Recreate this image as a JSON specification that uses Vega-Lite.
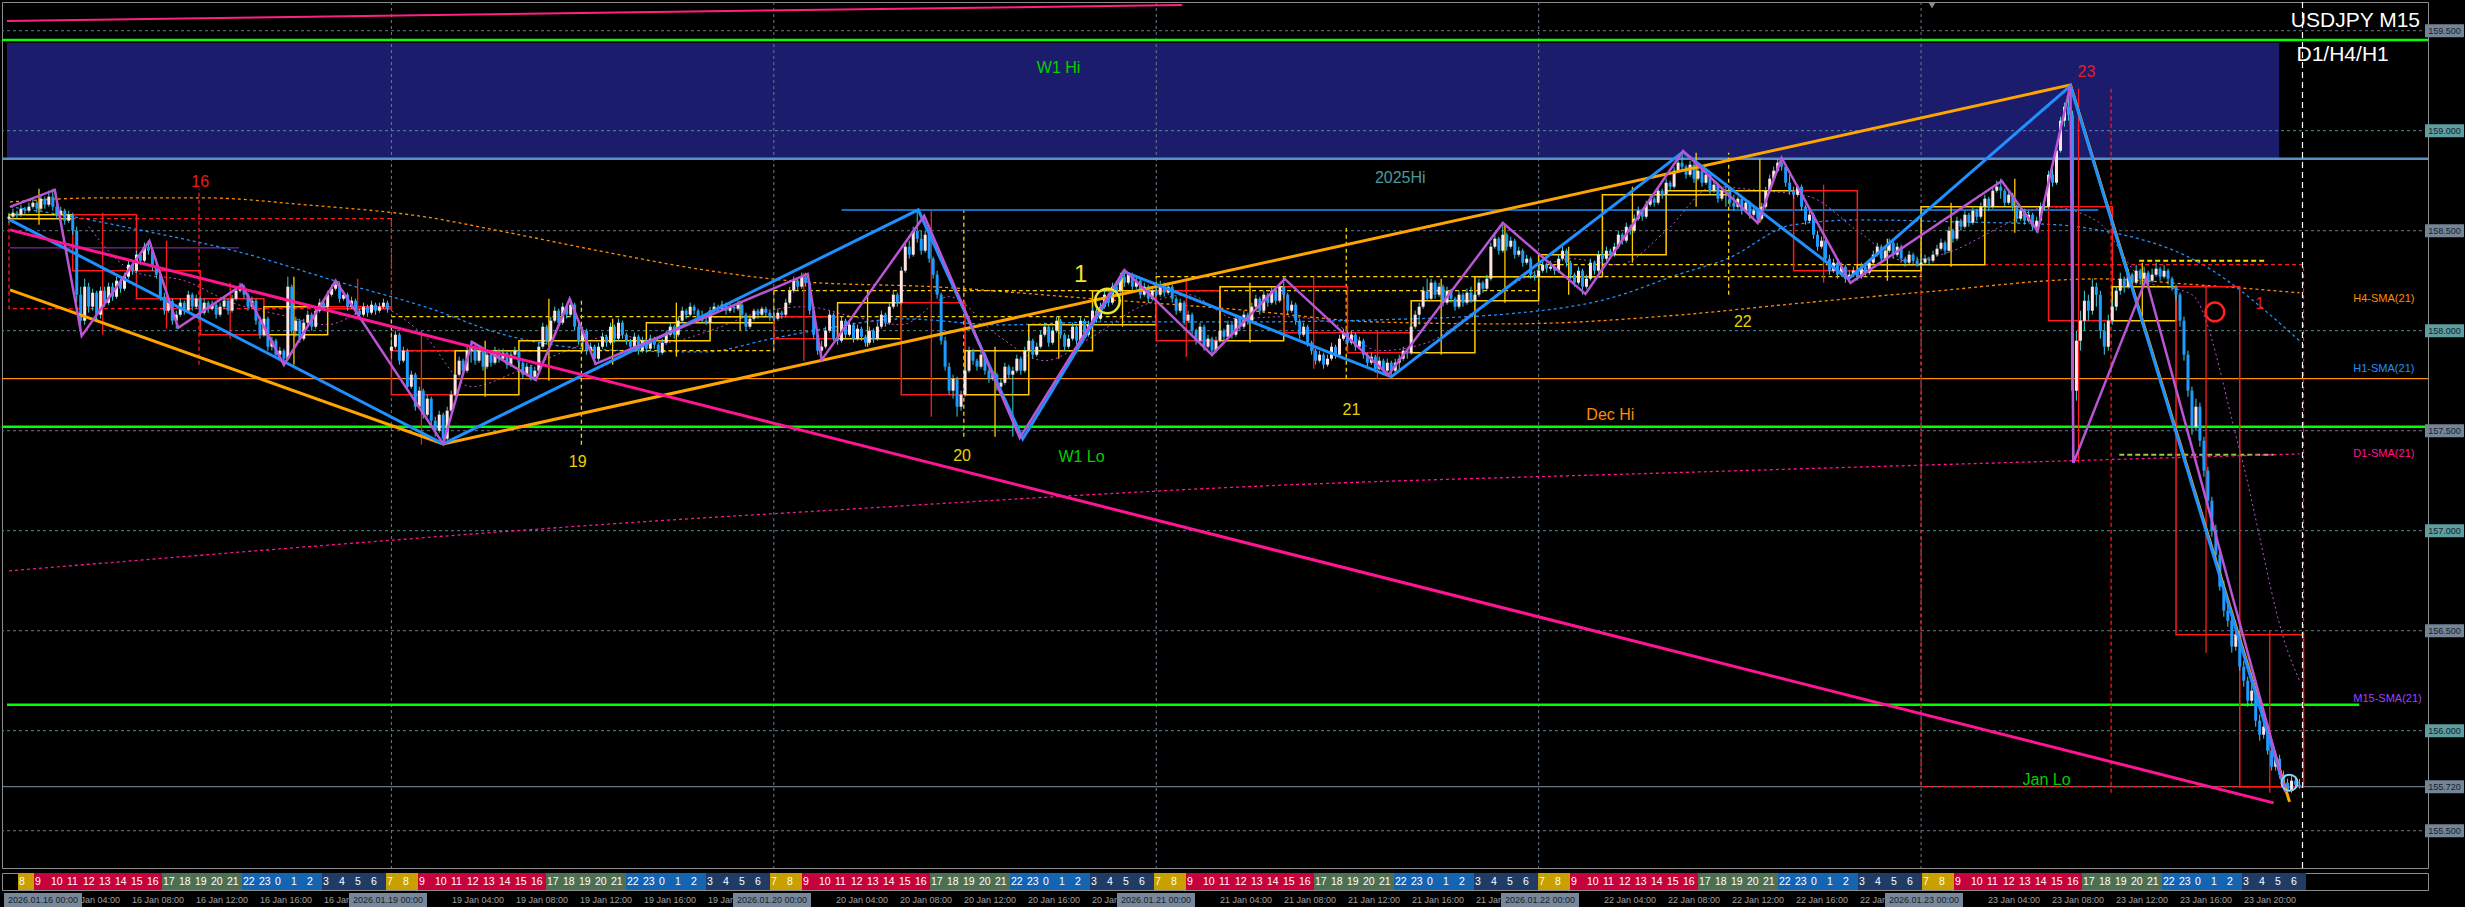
{
"$schema":"https://vega.github.io/schema/vega-lite/v6.json",
"background":"#000000",
"padding":0,
"autosize":{"type":"pad"},
"spacing":2,
"config":{"view":{"stroke":"#8c8c8c","strokeWidth":1},"text":{"font":"Liberation Sans"},"axis":{"labelFont":"Liberation Sans","grid":false}},
"vconcat":[
{"width":2426,"height":866,
"layer":[
{"data":{"values":[{"t0":-0.5,"t1":569.9,"p0":159.438,"p1":158.86}]},
"mark":{"type":"rect","color":"#1c1c6c"},
"encoding":{"x":{"field":"t0","type":"quantitative","scale":{"domain":[-0.5,606],"nice":false,"zero":false},"axis":null},"x2":{"field":"t1"},
"y":{"field":"p0","type":"quantitative","scale":{"domain":[155.3135,159.6435],"nice":false,"zero":false},"axis":{"orient":"right","title":null,"values":[155.46,155.62,155.78,155.94,156.1,156.26,156.42,156.58,156.74,156.9,157.06,157.22,157.38,157.54,157.7,157.86,158.02,158.18,158.34,158.5,158.66,158.82,158.98,159.14,159.3,159.46,159.62],"format":".3f","labelColor":"#9a9a9a","labelFontSize":9,"tickColor":"#8c8c8c","tickSize":5,"domainColor":"#8c8c8c","labelPadding":2,"labelOverlap":false,"labelFlush":false}},"y2":{"field":"p1"}}},
{"data":{"values":[{"p":159.5},{"p":159},{"p":158.5},{"p":158},{"p":157.5},{"p":157},{"p":156.5},{"p":156},{"p":155.5}]},
"mark":{"type":"rule","strokeDash":[3,3],"strokeWidth":1},
"encoding":{"y":{"field":"p","type":"quantitative","scale":{"domain":[155.3135,159.6435],"nice":false,"zero":false},"axis":null},"color":{"condition":{"test":"datum.p % 1 == 0","value":"#4f8f96"},"value":"#66788a"}}},
{"data":{"values":[{"t":96},{"t":192},{"t":288},{"t":384},{"t":480}]},
"mark":{"type":"rule","strokeDash":[3,3],"color":"#6a7a8a","strokeWidth":1},
"encoding":{"x":{"field":"t","type":"quantitative","scale":{"domain":[-0.5,606],"nice":false,"zero":false},"axis":null}}},
{"data":{"values":[{"p":159.453},{"p":157.52}]},"mark":{"type":"rule","color":"#00ff00","strokeWidth":2.5},
"encoding":{"y":{"field":"p","type":"quantitative","scale":{"domain":[155.3135,159.6435],"nice":false,"zero":false},"axis":null}}},
{"data":{"values":[{"p":157.76}]},"mark":{"type":"rule","color":"#ff8c00","strokeWidth":1.2},
"encoding":{"y":{"field":"p","type":"quantitative","scale":{"domain":[155.3135,159.6435],"nice":false,"zero":false},"axis":null}}},
{"data":{"values":[{"p":158.86}]},"mark":{"type":"rule","color":"#5a8fc8","strokeWidth":2.5},
"encoding":{"y":{"field":"p","type":"quantitative","scale":{"domain":[155.3135,159.6435],"nice":false,"zero":false},"axis":null}}},
{"data":{"values":[{"p":155.72}]},"mark":{"type":"rule","color":"#8090a0","strokeWidth":1},
"encoding":{"y":{"field":"p","type":"quantitative","scale":{"domain":[155.3135,159.6435],"nice":false,"zero":false},"axis":null}}},
{"data":{"values":[{"t0":-0.5,"t1":590,"p":156.13}]},"mark":{"type":"rule","color":"#00ff00","strokeWidth":2.5},
"encoding":{"x":{"field":"t0","type":"quantitative","scale":{"domain":[-0.5,606],"nice":false,"zero":false},"axis":null},"x2":{"field":"t1"},"y":{"field":"p","type":"quantitative","scale":{"domain":[155.3135,159.6435],"nice":false,"zero":false},"axis":null}}},
{"data":{"values":[{"t0":209,"t1":524.5,"p":158.604}]},"mark":{"type":"rule","color":"#1e90ff","strokeWidth":1.5},
"encoding":{"x":{"field":"t0","type":"quantitative","scale":{"domain":[-0.5,606],"nice":false,"zero":false},"axis":null},"x2":{"field":"t1"},"y":{"field":"p","type":"quantitative","scale":{"domain":[155.3135,159.6435],"nice":false,"zero":false},"axis":null}}},
{"data":{"values":[{"t0":0.25,"t1":57.75,"p":158.414}]},"mark":{"type":"rule","color":"#9932cc","strokeWidth":1},
"encoding":{"x":{"field":"t0","type":"quantitative","scale":{"domain":[-0.5,606],"nice":false,"zero":false},"axis":null},"x2":{"field":"t1"},"y":{"field":"p","type":"quantitative","scale":{"domain":[155.3135,159.6435],"nice":false,"zero":false},"axis":null}}},
{"data":{"values":[{"t0":534.75,"t1":566.5,"p":158.35}]},"mark":{"type":"rule","color":"#ffd700","strokeWidth":2,"strokeDash":[5,3]},
"encoding":{"x":{"field":"t0","type":"quantitative","scale":{"domain":[-0.5,606],"nice":false,"zero":false},"axis":null},"x2":{"field":"t1"},"y":{"field":"p","type":"quantitative","scale":{"domain":[155.3135,159.6435],"nice":false,"zero":false},"axis":null}}},
{"data":{"values":[{"t0":529.75,"t1":568.5,"p":157.38}]},"mark":{"type":"rule","color":"#9acd32","strokeWidth":2,"strokeDash":[5,3]},
"encoding":{"x":{"field":"t0","type":"quantitative","scale":{"domain":[-0.5,606],"nice":false,"zero":false},"axis":null},"x2":{"field":"t1"},"y":{"field":"p","type":"quantitative","scale":{"domain":[155.3135,159.6435],"nice":false,"zero":false},"axis":null}}},
{"data":{"values":[{"t":0.25,"p":158.644},{"t":22.75,"p":158.664},{"t":49.5,"p":158.664},{"t":74.5,"p":158.629},{"t":104.5,"p":158.569},{"t":124.5,"p":158.494},{"t":149.5,"p":158.394},{"t":174.5,"p":158.304},{"t":199.5,"p":158.244},{"t":232.75,"p":158.219},{"t":266.25,"p":158.169},{"t":309.5,"p":158.104},{"t":342.75,"p":158.044},{"t":376.25,"p":158.034},{"t":419.5,"p":158.079},{"t":447.75,"p":158.134},{"t":481.25,"p":158.194},{"t":524.5,"p":158.259},{"t":549.5,"p":158.229},{"t":575,"p":158.19}]},
"mark":{"type":"line","color":"#ff8c00","strokeWidth":1.3,"strokeDash":[3,3],"interpolate":"monotone"},
"encoding":{"x":{"field":"t","type":"quantitative","scale":{"domain":[-0.5,606],"nice":false,"zero":false},"axis":null},"y":{"field":"p","type":"quantitative","scale":{"domain":[155.3135,159.6435],"nice":false,"zero":false},"axis":null}}},
{"data":{"values":[{"t":0.25,"p":158.62},{"t":16.25,"p":158.569},{"t":32.75,"p":158.504},{"t":57.75,"p":158.394},{"t":82.75,"p":158.244},{"t":104.5,"p":158.119},{"t":124.5,"p":157.979},{"t":149.5,"p":157.904},{"t":174.5,"p":157.894},{"t":191.25,"p":157.959},{"t":204.5,"p":158.009},{"t":224.5,"p":158.059},{"t":249.5,"p":158.029},{"t":274.5,"p":158.044},{"t":309.5,"p":158.044},{"t":342.75,"p":158.054},{"t":376.25,"p":158.084},{"t":401.25,"p":158.159},{"t":419.5,"p":158.284},{"t":431.25,"p":158.359},{"t":447.75,"p":158.529},{"t":464.5,"p":158.554},{"t":489.5,"p":158.544},{"t":514.5,"p":158.529},{"t":524.5,"p":158.504},{"t":549.5,"p":158.344},{"t":575,"p":157.95}]},
"mark":{"type":"line","color":"#1e90ff","strokeWidth":1.3,"strokeDash":[3,3],"interpolate":"monotone"},
"encoding":{"x":{"field":"t","type":"quantitative","scale":{"domain":[-0.5,606],"nice":false,"zero":false},"axis":null},"y":{"field":"p","type":"quantitative","scale":{"domain":[155.3135,159.6435],"nice":false,"zero":false},"axis":null}}},
{"data":{"values":[{"t":0,"p":156.799},{"t":74.5,"p":156.919},{"t":166.25,"p":157.054},{"t":199.5,"p":157.094},{"t":309.5,"p":157.219},{"t":424.5,"p":157.294},{"t":524.5,"p":157.354},{"t":575,"p":157.384}]},
"mark":{"type":"line","color":"#ff1493","strokeWidth":1.3,"strokeDash":[3,3],"interpolate":"monotone"},
"encoding":{"x":{"field":"t","type":"quantitative","scale":{"domain":[-0.5,606],"nice":false,"zero":false},"axis":null},"y":{"field":"p","type":"quantitative","scale":{"domain":[155.3135,159.6435],"nice":false,"zero":false},"axis":null}}},
{"data":{"values":[{"t":20,"p":158.52},{"t":32,"p":158.29},{"t":44,"p":158.25},{"t":56,"p":158.14},{"t":68,"p":158.08},{"t":80,"p":158.03},{"t":92,"p":158.12},{"t":104,"p":157.98},{"t":116,"p":157.72},{"t":128,"p":157.8},{"t":140,"p":157.9},{"t":152,"p":157.98},{"t":164,"p":157.94},{"t":176,"p":158.0},{"t":188,"p":158.09},{"t":200,"p":158.12},{"t":212,"p":158.07},{"t":224,"p":158.03},{"t":236,"p":158.17},{"t":248,"p":157.98},{"t":260,"p":157.85},{"t":272,"p":157.97},{"t":284,"p":158.12},{"t":296,"p":158.18},{"t":308,"p":158.06},{"t":320,"p":158.07},{"t":332,"p":158.04},{"t":344,"p":157.9},{"t":356,"p":157.94},{"t":368,"p":158.1},{"t":380,"p":158.26},{"t":392,"p":158.36},{"t":404,"p":158.33},{"t":416,"p":158.5},{"t":428,"p":158.72},{"t":440,"p":158.7},{"t":452,"p":158.67},{"t":464,"p":158.5},{"t":476,"p":158.35},{"t":488,"p":158.4},{"t":500,"p":158.52},{"t":512,"p":158.62},{"t":524,"p":158.55},{"t":536,"p":158.25},{"t":548,"p":158.18},{"t":560,"p":157.4},{"t":572,"p":156.4},{"t":575,"p":156.25}]},
"mark":{"type":"line","color":"#ba55d3","strokeWidth":1,"strokeDash":[2,3],"interpolate":"monotone"},
"encoding":{"x":{"field":"t","type":"quantitative","scale":{"domain":[-0.5,606],"nice":false,"zero":false},"axis":null},"y":{"field":"p","type":"quantitative","scale":{"domain":[155.3135,159.6435],"nice":false,"zero":false},"axis":null}}},
{"data":{"values":"t,o,h,l,c\n0,158.56,158.59,158.54,158.57\n1,158.57,158.61,158.56,158.59\n2,158.59,158.60,158.56,158.58\n3,158.58,158.63,158.57,158.61\n4,158.61,158.62,158.58,158.60\n5,158.60,158.64,158.59,158.62\n6,158.62,158.66,158.61,158.64\n7,158.64,158.65,158.59,158.61\n8,158.61,158.68,158.60,158.66\n9,158.66,158.67,158.61,158.63\n10,158.63,158.70,158.62,158.67\n11,158.67,158.71,158.60,158.62\n12,158.62,158.64,158.56,158.58\n13,158.58,158.62,158.55,158.60\n14,158.60,158.61,158.53,158.55\n15,158.55,158.60,158.54,158.58\n16,158.58,158.59,158.48,158.50\n17,158.50,158.52,158.14,158.18\n18,158.18,158.22,157.98,158.05\n19,158.05,158.26,158.03,158.22\n20,158.22,158.24,158.09,158.12\n21,158.12,158.21,158.10,158.19\n22,158.19,158.20,158.05,158.08\n23,158.08,158.22,158.06,158.20\n24,158.20,158.22,158.12,158.14\n25,158.14,158.24,158.13,158.22\n26,158.22,158.24,158.15,158.17\n27,158.17,158.27,158.16,158.25\n28,158.25,158.26,158.19,158.21\n29,158.21,158.29,158.20,158.27\n30,158.27,158.35,158.26,158.33\n31,158.33,158.34,158.28,158.30\n32,158.30,158.40,158.29,158.38\n33,158.38,158.39,158.33,158.35\n34,158.35,158.44,158.34,158.42\n35,158.42,158.45,158.38,158.40\n36,158.40,158.41,158.30,158.32\n37,158.32,158.34,158.26,158.28\n38,158.28,158.29,158.15,158.17\n39,158.17,158.19,158.08,158.10\n40,158.10,158.17,158.09,158.15\n41,158.15,158.16,158.03,158.05\n42,158.05,158.10,158.01,158.08\n43,158.08,158.16,158.07,158.14\n44,158.14,158.15,158.08,158.10\n45,158.10,158.20,158.09,158.18\n46,158.18,158.19,158.10,158.12\n47,158.12,158.18,158.11,158.16\n48,158.16,158.17,158.07,158.09\n49,158.09,158.16,158.08,158.14\n50,158.14,158.15,158.09,158.11\n51,158.11,158.15,158.10,158.13\n52,158.13,158.14,158.06,158.08\n53,158.08,158.14,158.07,158.12\n54,158.12,158.17,158.11,158.15\n55,158.15,158.16,158.08,158.10\n56,158.10,158.18,158.09,158.16\n57,158.16,158.22,158.15,158.20\n58,158.20,158.24,158.19,158.22\n59,158.22,158.23,158.16,158.18\n60,158.18,158.19,158.10,158.12\n61,158.12,158.17,158.11,158.15\n62,158.15,158.16,158.03,158.05\n63,158.05,158.07,157.96,157.98\n64,157.98,158.08,157.97,158.06\n65,158.06,158.07,157.90,157.92\n66,157.92,157.97,157.90,157.95\n67,157.95,157.96,157.86,157.88\n68,157.88,157.92,157.86,157.90\n69,157.90,157.91,157.83,157.86\n70,157.86,158.27,157.85,158.22\n71,158.22,158.23,157.98,158.00\n72,158.00,158.07,157.97,158.05\n73,158.05,158.06,157.94,157.96\n74,157.96,158.06,157.95,158.04\n75,158.04,158.10,158.03,158.08\n76,158.08,158.09,158.00,158.02\n77,158.02,158.12,158.01,158.10\n78,158.10,158.16,158.09,158.14\n79,158.14,158.15,158.10,158.12\n80,158.12,158.20,158.11,158.18\n81,158.18,158.23,158.17,158.21\n82,158.21,158.26,158.20,158.23\n83,158.23,158.24,158.14,158.16\n84,158.16,158.20,158.15,158.18\n85,158.18,158.19,158.10,158.12\n86,158.12,158.17,158.11,158.15\n87,158.15,158.16,158.08,158.10\n88,158.10,158.11,158.06,158.08\n89,158.08,158.14,158.07,158.12\n90,158.12,158.13,158.07,158.09\n91,158.09,158.15,158.08,158.13\n92,158.13,158.14,158.08,158.10\n93,158.10,158.14,158.09,158.12\n94,158.12,158.16,158.11,158.14\n95,158.14,158.15,158.09,158.11\n96,157.90,157.95,157.86,157.92\n97,157.92,158.00,157.91,157.98\n98,157.98,157.99,157.83,157.85\n99,157.85,157.92,157.84,157.90\n100,157.90,157.91,157.70,157.72\n101,157.72,157.80,157.71,157.78\n102,157.78,157.79,157.60,157.62\n103,157.62,157.72,157.61,157.70\n104,157.70,157.71,157.56,157.58\n105,157.58,157.68,157.57,157.66\n106,157.66,157.67,157.52,157.55\n107,157.55,157.57,157.47,157.50\n108,157.50,157.60,157.49,157.58\n109,157.58,157.59,157.43,157.46\n110,157.46,157.62,157.45,157.60\n111,157.60,157.70,157.59,157.68\n112,157.68,157.80,157.67,157.78\n113,157.78,157.87,157.77,157.85\n114,157.85,157.86,157.78,157.80\n115,157.80,157.92,157.79,157.90\n116,157.90,157.95,157.84,157.92\n117,157.92,157.93,157.83,157.85\n118,157.85,157.92,157.84,157.90\n119,157.90,157.91,157.80,157.82\n120,157.82,157.90,157.81,157.88\n121,157.88,157.89,157.82,157.84\n122,157.84,157.92,157.83,157.90\n123,157.90,157.91,157.84,157.86\n124,157.86,157.91,157.85,157.89\n125,157.89,157.90,157.81,157.83\n126,157.83,157.90,157.82,157.88\n127,157.88,157.92,157.86,157.90\n128,157.90,157.91,157.82,157.84\n129,157.84,157.85,157.76,157.78\n130,157.78,157.84,157.77,157.82\n131,157.82,157.83,157.75,157.77\n132,157.77,157.82,157.75,157.80\n133,157.80,157.94,157.79,157.92\n134,157.92,158.04,157.91,158.02\n135,158.02,158.03,157.93,157.95\n136,157.95,158.07,157.94,158.05\n137,158.05,158.12,158.04,158.10\n138,158.10,158.11,158.02,158.04\n139,158.04,158.14,158.03,158.12\n140,158.12,158.13,158.06,158.08\n141,158.08,158.16,158.07,158.13\n142,158.13,158.14,158.00,158.02\n143,158.02,158.04,157.93,157.95\n144,157.95,158.02,157.94,158.00\n145,158.00,158.01,157.88,157.90\n146,157.90,157.94,157.89,157.92\n147,157.92,157.93,157.83,157.86\n148,157.86,157.94,157.85,157.92\n149,157.92,157.99,157.91,157.97\n150,157.97,157.98,157.92,157.94\n151,157.94,158.04,157.93,158.02\n152,158.02,158.03,157.94,157.96\n153,157.96,158.06,157.95,158.04\n154,158.04,158.05,157.96,157.98\n155,157.98,157.99,157.93,157.95\n156,157.95,157.96,157.90,157.92\n157,157.92,157.99,157.91,157.97\n158,157.97,157.98,157.88,157.90\n159,157.90,157.97,157.89,157.95\n160,157.95,157.96,157.89,157.91\n161,157.91,157.98,157.90,157.96\n162,157.96,157.97,157.91,157.93\n163,157.93,157.94,157.87,157.89\n164,157.89,157.96,157.88,157.94\n165,157.94,158.00,157.93,157.98\n166,157.98,158.04,157.97,158.02\n167,158.02,158.03,157.96,157.98\n168,157.98,158.07,157.97,158.05\n169,158.05,158.12,158.04,158.10\n170,158.10,158.11,158.06,158.08\n171,158.08,158.14,158.07,158.12\n172,158.12,158.13,158.08,158.10\n173,158.10,158.11,158.05,158.07\n174,158.07,158.10,158.04,158.05\n175,158.05,158.08,158.03,158.04\n176,158.04,158.12,158.03,158.10\n177,158.10,158.14,158.09,158.12\n178,158.12,158.13,158.09,158.11\n179,158.11,158.15,158.10,158.13\n180,158.13,158.14,158.08,158.10\n181,158.10,158.14,158.09,158.12\n182,158.12,158.13,158.09,158.11\n183,158.11,158.15,158.10,158.13\n184,158.13,158.14,158.06,158.08\n185,158.08,158.09,158.00,158.02\n186,158.02,158.07,158.01,158.06\n187,158.06,158.11,158.05,158.10\n188,158.10,158.11,158.06,158.08\n189,158.08,158.12,158.07,158.11\n190,158.11,158.12,158.07,158.09\n191,158.09,158.10,158.05,158.07\n192,158.07,158.10,158.05,158.06\n193,158.06,158.11,158.05,158.09\n194,158.09,158.10,158.06,158.08\n195,158.08,158.16,158.07,158.14\n196,158.14,158.22,158.13,158.20\n197,158.20,158.27,158.19,158.25\n198,158.25,158.26,158.20,158.22\n199,158.22,158.29,158.21,158.27\n200,158.27,158.29,158.22,158.24\n201,158.24,158.25,158.08,158.10\n202,158.10,158.11,157.96,157.98\n203,157.98,158.00,157.88,157.90\n204,157.90,157.95,157.85,157.92\n205,157.92,158.02,157.91,158.00\n206,158.00,158.10,157.99,158.08\n207,158.08,158.09,157.95,157.96\n208,157.96,157.99,157.93,157.95\n209,157.95,158.07,157.94,158.05\n210,158.05,158.06,157.96,157.98\n211,157.98,158.05,157.97,158.03\n212,158.03,158.04,157.94,157.96\n213,157.96,158.03,157.95,158.01\n214,158.01,158.02,157.95,157.97\n215,157.97,157.98,157.92,157.94\n216,157.94,158.02,157.93,158.00\n217,158.00,158.01,157.94,157.96\n218,157.96,158.04,157.95,158.02\n219,158.02,158.10,158.01,158.08\n220,158.08,158.09,158.02,158.04\n221,158.04,158.14,158.03,158.12\n222,158.12,158.20,158.11,158.18\n223,158.18,158.19,158.12,158.14\n224,158.14,158.32,158.13,158.30\n225,158.30,158.44,158.29,158.42\n226,158.42,158.45,158.36,158.38\n227,158.38,158.52,158.37,158.50\n228,158.50,158.60,158.44,158.46\n229,158.46,158.50,158.38,158.40\n230,158.40,158.50,158.39,158.48\n231,158.48,158.49,158.34,158.36\n232,158.36,158.37,158.26,158.28\n233,158.28,158.30,158.16,158.18\n234,158.18,158.19,157.93,157.95\n235,157.95,157.97,157.80,157.82\n236,157.82,157.84,157.68,157.70\n237,157.70,157.78,157.66,157.76\n238,157.76,157.77,157.57,157.62\n239,157.62,157.70,157.60,157.68\n240,157.68,157.82,157.67,157.80\n241,157.80,157.92,157.79,157.90\n242,157.90,157.91,157.83,157.85\n243,157.85,157.86,157.80,157.82\n244,157.82,157.90,157.81,157.88\n245,157.88,157.89,157.78,157.80\n246,157.80,157.81,157.74,157.76\n247,157.76,157.80,157.75,157.78\n248,157.78,157.79,157.70,157.72\n249,157.72,157.76,157.71,157.74\n250,157.74,157.84,157.73,157.82\n251,157.82,157.83,157.76,157.78\n252,157.78,157.82,157.47,157.80\n253,157.80,157.88,157.79,157.86\n254,157.86,157.87,157.78,157.80\n255,157.80,157.92,157.79,157.90\n256,157.90,157.97,157.89,157.95\n257,157.95,157.96,157.86,157.88\n258,157.88,157.94,157.87,157.92\n259,157.92,158.00,157.91,157.98\n260,157.98,158.04,157.97,158.02\n261,158.02,158.03,157.92,157.94\n262,157.94,158.02,157.93,158.00\n263,158.00,158.07,157.99,158.05\n264,158.05,158.06,157.96,157.98\n265,157.98,157.99,157.90,157.92\n266,157.92,157.98,157.91,157.96\n267,157.96,158.04,157.95,158.02\n268,158.02,158.03,157.93,157.95\n269,157.95,158.07,157.94,158.05\n270,158.05,158.06,157.96,157.98\n271,157.98,158.05,157.97,158.03\n272,158.03,158.12,158.02,158.10\n273,158.10,158.11,158.04,158.06\n274,158.06,158.14,158.05,158.12\n275,158.12,158.20,158.11,158.18\n276,158.18,158.19,158.12,158.14\n277,158.14,158.24,158.13,158.22\n278,158.22,158.23,158.18,158.20\n279,158.20,158.29,158.19,158.27\n280,158.27,158.30,158.22,158.24\n281,158.24,158.29,158.23,158.28\n282,158.28,158.29,158.20,158.22\n283,158.22,158.27,158.21,158.25\n284,158.25,158.26,158.16,158.18\n285,158.18,158.24,158.17,158.22\n286,158.22,158.23,158.14,158.16\n287,158.16,158.22,158.15,158.20\n288,158.20,158.24,158.17,158.18\n289,158.18,158.25,158.17,158.23\n290,158.23,158.24,158.17,158.19\n291,158.19,158.24,158.18,158.22\n292,158.22,158.23,158.14,158.16\n293,158.16,158.17,158.08,158.10\n294,158.10,158.16,158.09,158.14\n295,158.14,158.15,158.03,158.05\n296,158.05,158.10,158.04,158.08\n297,158.08,158.09,157.98,158.00\n298,158.00,158.01,157.93,157.95\n299,157.95,158.04,157.94,158.02\n300,158.02,158.03,157.90,157.92\n301,157.92,157.98,157.91,157.96\n302,157.96,157.97,157.87,157.90\n303,157.90,157.97,157.89,157.95\n304,157.95,158.02,157.94,158.00\n305,158.00,158.01,157.95,157.97\n306,157.97,158.05,157.96,158.03\n307,158.03,158.04,157.96,157.98\n308,157.98,158.08,157.97,158.06\n309,158.06,158.07,158.00,158.02\n310,158.02,158.10,158.01,158.08\n311,158.08,158.09,158.03,158.05\n312,158.05,158.14,158.04,158.12\n313,158.12,158.18,158.11,158.16\n314,158.16,158.17,158.08,158.10\n315,158.10,158.20,158.09,158.18\n316,158.18,158.19,158.12,158.14\n317,158.14,158.22,158.13,158.20\n318,158.20,158.21,158.13,158.15\n319,158.15,158.24,158.14,158.22\n320,158.22,158.27,158.16,158.18\n321,158.18,158.19,158.08,158.10\n322,158.10,158.15,158.09,158.13\n323,158.13,158.14,158.03,158.05\n324,158.05,158.06,157.96,157.98\n325,157.98,158.04,157.97,158.02\n326,158.02,158.03,157.92,157.94\n327,157.94,157.95,157.88,157.90\n328,157.90,157.91,157.83,157.85\n329,157.85,157.90,157.84,157.88\n330,157.88,157.89,157.81,157.83\n331,157.83,157.88,157.82,157.86\n332,157.86,157.94,157.85,157.92\n333,157.92,157.93,157.86,157.88\n334,157.88,157.98,157.87,157.96\n335,157.96,158.01,157.95,157.99\n336,157.99,158.00,157.92,157.94\n337,157.94,158.00,157.93,157.98\n338,157.98,157.99,157.90,157.92\n339,157.92,157.97,157.91,157.95\n340,157.95,157.96,157.86,157.88\n341,157.88,157.89,157.82,157.84\n342,157.84,157.89,157.83,157.87\n343,157.87,157.88,157.79,157.81\n344,157.81,157.87,157.80,157.85\n345,157.85,157.86,157.78,157.80\n346,157.80,157.86,157.79,157.84\n347,157.84,157.85,157.76,157.80\n348,157.80,157.86,157.79,157.84\n349,157.84,157.88,157.80,157.86\n350,157.86,157.92,157.85,157.90\n351,157.90,157.91,157.86,157.89\n352,157.89,158.04,157.88,158.02\n353,158.02,158.10,158.01,158.08\n354,158.08,158.14,158.03,158.12\n355,158.12,158.22,158.11,158.20\n356,158.20,158.26,158.15,158.16\n357,158.16,158.26,158.15,158.24\n358,158.24,158.25,158.16,158.18\n359,158.18,158.24,158.17,158.22\n360,158.22,158.23,158.12,158.14\n361,158.14,158.22,158.13,158.20\n362,158.20,158.21,158.14,158.16\n363,158.16,158.17,158.10,158.12\n364,158.12,158.20,158.11,158.18\n365,158.18,158.19,158.12,158.14\n366,158.14,158.21,158.13,158.19\n367,158.19,158.22,158.14,158.15\n368,158.15,158.20,158.14,158.18\n369,158.18,158.26,158.17,158.24\n370,158.24,158.25,158.19,158.21\n371,158.21,158.28,158.20,158.26\n372,158.26,158.44,158.25,158.42\n373,158.42,158.48,158.41,158.46\n374,158.46,158.47,158.38,158.40\n375,158.40,158.53,158.39,158.48\n376,158.48,158.49,158.40,158.42\n377,158.42,158.47,158.41,158.45\n378,158.45,158.46,158.36,158.38\n379,158.38,158.42,158.37,158.40\n380,158.40,158.41,158.32,158.34\n381,158.34,158.38,158.33,158.36\n382,158.36,158.37,158.26,158.28\n383,158.28,158.30,158.25,158.27\n384,158.27,158.32,158.26,158.30\n385,158.30,158.35,158.29,158.33\n386,158.33,158.34,158.29,158.31\n387,158.31,158.35,158.30,158.32\n388,158.32,158.33,158.28,158.30\n389,158.30,158.38,158.29,158.36\n390,158.36,158.42,158.35,158.40\n391,158.40,158.41,158.32,158.34\n392,158.34,158.35,158.26,158.28\n393,158.28,158.29,158.22,158.24\n394,158.24,158.32,158.23,158.30\n395,158.30,158.31,158.18,158.22\n396,158.22,158.28,158.21,158.26\n397,158.26,158.36,158.25,158.34\n398,158.34,158.35,158.28,158.30\n399,158.30,158.40,158.29,158.38\n400,158.38,158.40,158.34,158.36\n401,158.36,158.42,158.35,158.40\n402,158.40,158.41,158.36,158.38\n403,158.38,158.44,158.37,158.42\n404,158.42,158.50,158.41,158.48\n405,158.48,158.49,158.43,158.45\n406,158.45,158.54,158.44,158.52\n407,158.52,158.53,158.48,158.50\n408,158.50,158.58,158.49,158.56\n409,158.56,158.62,158.55,158.60\n410,158.60,158.61,158.55,158.57\n411,158.57,158.65,158.56,158.63\n412,158.63,158.68,158.62,158.66\n413,158.66,158.67,158.62,158.64\n414,158.64,158.72,158.63,158.70\n415,158.70,158.71,158.66,158.68\n416,158.68,158.76,158.67,158.74\n417,158.74,158.75,158.70,158.72\n418,158.72,158.82,158.71,158.80\n419,158.80,158.86,158.79,158.84\n420,158.84,158.89,158.80,158.82\n421,158.82,158.83,158.76,158.78\n422,158.78,158.85,158.77,158.83\n423,158.83,158.84,158.74,158.76\n424,158.76,158.82,158.75,158.80\n425,158.80,158.81,158.72,158.74\n426,158.74,158.80,158.73,158.78\n427,158.78,158.79,158.68,158.70\n428,158.70,158.75,158.69,158.73\n429,158.73,158.74,158.64,158.66\n430,158.66,158.72,158.65,158.70\n431,158.70,158.74,158.62,158.70\n432,158.70,158.71,158.62,158.64\n433,158.64,158.68,158.60,158.62\n434,158.62,158.67,158.61,158.66\n435,158.66,158.67,158.58,158.60\n436,158.60,158.65,158.59,158.64\n437,158.64,158.65,158.56,158.58\n438,158.58,158.62,158.57,158.60\n439,158.60,158.61,158.54,158.56\n440,158.56,158.64,158.55,158.62\n441,158.62,158.72,158.61,158.70\n442,158.70,158.78,158.69,158.76\n443,158.76,158.82,158.75,158.80\n444,158.80,158.86,158.79,158.84\n445,158.84,158.86,158.80,158.82\n446,158.82,158.83,158.72,158.74\n447,158.74,158.78,158.68,158.70\n448,158.70,158.72,158.66,158.68\n449,158.68,158.73,158.67,158.72\n450,158.72,158.73,158.60,158.62\n451,158.62,158.63,158.53,158.55\n452,158.55,158.60,158.54,158.58\n453,158.58,158.59,158.46,158.48\n454,158.48,158.50,158.40,158.42\n455,158.42,158.47,158.41,158.45\n456,158.45,158.46,158.34,158.36\n457,158.36,158.38,158.28,158.30\n458,158.30,158.36,158.29,158.34\n459,158.34,158.35,158.26,158.28\n460,158.28,158.34,158.27,158.32\n461,158.32,158.33,158.24,158.26\n462,158.26,158.30,158.24,158.28\n463,158.28,158.32,158.27,158.30\n464,158.30,158.31,158.25,158.27\n465,158.27,158.34,158.26,158.32\n466,158.32,158.33,158.27,158.29\n467,158.29,158.36,158.28,158.34\n468,158.34,158.40,158.33,158.38\n469,158.38,158.44,158.37,158.42\n470,158.42,158.43,158.34,158.36\n471,158.36,158.42,158.35,158.40\n472,158.40,158.46,158.39,158.44\n473,158.44,158.45,158.36,158.38\n474,158.38,158.44,158.37,158.42\n475,158.42,158.43,158.34,158.36\n476,158.36,158.37,158.32,158.34\n477,158.34,158.40,158.33,158.38\n478,158.38,158.39,158.33,158.35\n479,158.35,158.37,158.32,158.33\n480,158.33,158.37,158.32,158.34\n481,158.34,158.38,158.33,158.36\n482,158.36,158.37,158.33,158.35\n483,158.35,158.40,158.34,158.38\n484,158.38,158.43,158.37,158.41\n485,158.41,158.46,158.40,158.44\n486,158.44,158.45,158.38,158.40\n487,158.40,158.52,158.39,158.50\n488,158.50,158.51,158.44,158.46\n489,158.46,158.57,158.45,158.55\n490,158.55,158.56,158.50,158.52\n491,158.52,158.60,158.51,158.58\n492,158.58,158.59,158.52,158.54\n493,158.54,158.62,158.53,158.60\n494,158.60,158.61,158.55,158.57\n495,158.57,158.64,158.56,158.62\n496,158.62,158.68,158.61,158.66\n497,158.66,158.67,158.60,158.62\n498,158.62,158.72,158.61,158.70\n499,158.70,158.75,158.69,158.72\n500,158.72,158.76,158.66,158.70\n501,158.70,158.71,158.62,158.64\n502,158.64,158.70,158.63,158.68\n503,158.68,158.69,158.60,158.62\n504,158.62,158.63,158.54,158.56\n505,158.56,158.62,158.55,158.60\n506,158.60,158.61,158.53,158.55\n507,158.55,158.60,158.54,158.58\n508,158.58,158.59,158.50,158.52\n509,158.52,158.57,158.49,158.55\n510,158.55,158.64,158.54,158.62\n511,158.62,158.66,158.60,158.62\n512,158.62,158.80,158.61,158.78\n513,158.78,158.82,158.72,158.74\n514,158.74,158.92,158.73,158.90\n515,158.90,159.07,158.89,159.05\n516,159.05,159.14,159.02,159.12\n517,159.12,159.21,159.05,159.08\n518,159.08,159.10,157.34,157.70\n519,157.70,158.00,157.65,157.95\n520,157.95,158.10,157.90,158.05\n521,158.05,158.20,158.00,158.15\n522,158.15,158.18,158.05,158.10\n523,158.10,158.26,158.08,158.22\n524,158.22,158.24,158.12,158.18\n525,158.18,158.20,157.96,158.00\n526,158.00,158.04,157.88,157.92\n527,157.92,158.08,157.90,158.05\n528,158.05,158.15,158.03,158.12\n529,158.12,158.22,158.10,158.20\n530,158.20,158.29,158.18,158.26\n531,158.26,158.27,158.19,158.22\n532,158.22,158.31,158.21,158.28\n533,158.28,158.29,158.21,158.24\n534,158.24,158.33,158.23,158.30\n535,158.30,158.31,158.23,158.26\n536,158.26,158.32,158.25,158.29\n537,158.29,158.30,158.22,158.25\n538,158.25,158.31,158.24,158.28\n539,158.28,158.34,158.27,158.31\n540,158.31,158.32,158.25,158.27\n541,158.27,158.33,158.26,158.30\n542,158.30,158.31,158.23,158.26\n543,158.26,158.27,158.20,158.22\n544,158.22,158.23,158.15,158.18\n545,158.18,158.19,158.02,158.05\n546,158.05,158.07,157.85,157.88\n547,157.88,157.90,157.67,157.70\n548,157.70,157.72,157.48,157.52\n549,157.52,157.66,157.50,157.62\n550,157.62,157.64,157.42,157.45\n551,157.45,157.47,157.27,157.30\n552,157.30,157.32,157.12,157.15\n553,157.15,157.17,156.97,157.00\n554,157.00,157.03,156.85,156.88\n555,156.88,156.90,156.70,156.72\n556,156.72,156.75,156.57,156.60\n557,156.60,156.64,156.52,156.55\n558,156.55,156.57,156.39,156.42\n559,156.42,156.52,156.40,156.48\n560,156.48,156.50,156.30,156.32\n561,156.32,156.35,156.22,156.25\n562,156.25,156.27,156.12,156.15\n563,156.15,156.24,156.13,156.20\n564,156.20,156.22,156.02,156.05\n565,156.05,156.08,155.95,155.98\n566,155.98,156.05,155.96,156.02\n567,156.02,156.04,155.88,155.90\n568,155.90,155.92,155.80,155.82\n569,155.82,155.89,155.80,155.86\n570,155.86,155.88,155.76,155.78\n571,155.78,155.80,155.72,155.74\n572,155.74,155.76,155.69,155.70\n573,155.70,155.78,155.69,155.75\n574,155.75,155.77,155.71,155.73\n575,155.73,155.76,155.71,155.72","format":{"type":"csv","parse":{"t":"number","o":"number","h":"number","l":"number","c":"number"}}},
"layer":[
{"transform":[{"bin":{"step":96,"extent":[0,576]},"field":"t","as":["d0","d1"]},{"aggregate":[{"op":"min","field":"l","as":"dlo"},{"op":"max","field":"h","as":"dhi"},{"op":"argmin","field":"t","as":"df"},{"op":"argmax","field":"t","as":"dg"}],"groupby":["d0","d1"]}],
"layer":[
{"mark":{"type":"rule","strokeDash":[4,3],"strokeWidth":1.3,"xOffset":190},"encoding":{"x":{"field":"d0","type":"quantitative","scale":{"domain":[-0.5,606],"nice":false,"zero":false},"axis":null},"y":{"field":"dlo","type":"quantitative","scale":{"domain":[155.3135,159.6435],"nice":false,"zero":false},"axis":null},"y2":{"field":"dhi"},"color":{"condition":{"test":"datum.dg.c < datum.df.o","value":"#ff1a1a"},"value":"#ffd000"}}},
{"mark":{"type":"rect","fillOpacity":0,"strokeDash":[4,3],"strokeWidth":1.3},"encoding":{"x":{"field":"d0","type":"quantitative","scale":{"domain":[-0.5,606],"nice":false,"zero":false},"axis":null},"x2":{"field":"d1"},"y":{"field":"df.o","type":"quantitative","scale":{"domain":[155.3135,159.6435],"nice":false,"zero":false},"axis":null},"y2":{"field":"dg.c"},"stroke":{"condition":{"test":"datum.dg.c < datum.df.o","value":"#ff1a1a"},"value":"#ffd000"}}}
]},
{"transform":[{"bin":{"step":16,"extent":[0,576]},"field":"t","as":["q0","q1"]},{"aggregate":[{"op":"min","field":"l","as":"qlo"},{"op":"max","field":"h","as":"qhi"},{"op":"argmin","field":"t","as":"qf"},{"op":"argmax","field":"t","as":"qg"}],"groupby":["q0","q1"]}],
"layer":[
{"mark":{"type":"rule","strokeWidth":1.3,"xOffset":30},"encoding":{"x":{"field":"q0","type":"quantitative","scale":{"domain":[-0.5,606],"nice":false,"zero":false},"axis":null},"y":{"field":"qlo","type":"quantitative","scale":{"domain":[155.3135,159.6435],"nice":false,"zero":false},"axis":null},"y2":{"field":"qhi"},"color":{"condition":{"test":"datum.qg.c < datum.qf.o","value":"#ff1a1a"},"value":"#ffcc00"}}},
{"mark":{"type":"rect","fillOpacity":0,"strokeWidth":1.5},"encoding":{"x":{"field":"q0","type":"quantitative","scale":{"domain":[-0.5,606],"nice":false,"zero":false},"axis":null},"x2":{"field":"q1"},"y":{"field":"qf.o","type":"quantitative","scale":{"domain":[155.3135,159.6435],"nice":false,"zero":false},"axis":null},"y2":{"field":"qg.c"},"stroke":{"condition":{"test":"datum.qg.c < datum.qf.o","value":"#ff1a1a"},"value":"#ffcc00"}}}
]},
{"mark":{"type":"rule","color":"#40d0d0","strokeWidth":1},"encoding":{"x":{"field":"t","type":"quantitative","scale":{"domain":[-0.5,606],"nice":false,"zero":false},"axis":null},"y":{"field":"l","type":"quantitative","scale":{"domain":[155.3135,159.6435],"nice":false,"zero":false},"axis":null},"y2":{"field":"h"}}},
{"mark":{"type":"bar","width":3},"encoding":{"x":{"field":"t","type":"quantitative","scale":{"domain":[-0.5,606],"nice":false,"zero":false},"axis":null},"y":{"field":"o","type":"quantitative","scale":{"domain":[155.3135,159.6435],"nice":false,"zero":false},"axis":null},"y2":{"field":"c"},"color":{"condition":{"test":"datum.c >= datum.o","value":"#ffe4e1"},"value":"#1e9bff"}}}
]},
{"data":{"values":[{"t":0.25,"p":158.204},{"t":109,"p":157.434},{"t":517.5,"p":159.229},{"t":572.5,"p":155.644}]},
"mark":{"type":"line","color":"#ffa500","strokeWidth":3},
"encoding":{"x":{"field":"t","type":"quantitative","scale":{"domain":[-0.5,606],"nice":false,"zero":false},"axis":null},"y":{"field":"p","type":"quantitative","scale":{"domain":[155.3135,159.6435],"nice":false,"zero":false},"axis":null}}},
{"data":{"values":[{"t":0.25,"p":158.554},{"t":109,"p":157.434},{"t":228.25,"p":158.604},{"t":254.5,"p":157.459},{"t":280,"p":158.294},{"t":347,"p":157.769},{"t":420.25,"p":158.894},{"t":461.75,"p":158.259},{"t":517.5,"p":159.224},{"t":571.5,"p":155.694}]},
"mark":{"type":"line","color":"#1e90ff","strokeWidth":3},
"encoding":{"x":{"field":"t","type":"quantitative","scale":{"domain":[-0.5,606],"nice":false,"zero":false},"axis":null},"y":{"field":"p","type":"quantitative","scale":{"domain":[155.3135,159.6435],"nice":false,"zero":false},"axis":null}}},
{"data":{"values":[{"t":0.25,"p":158.619},{"t":11.5,"p":158.704},{"t":18.25,"p":157.974},{"t":35.25,"p":158.449},{"t":42.5,"p":158.014},{"t":58.5,"p":158.229},{"t":69,"p":157.829},{"t":82,"p":158.249},{"t":109,"p":157.434},{"t":116.25,"p":157.944},{"t":132.25,"p":157.754},{"t":140.75,"p":158.159},{"t":147.25,"p":157.834},{"t":200.5,"p":158.284},{"t":204,"p":157.854},{"t":229.75,"p":158.574},{"t":253.75,"p":157.464},{"t":280,"p":158.304},{"t":302,"p":157.879},{"t":320.25,"p":158.259},{"t":346.25,"p":157.779},{"t":375,"p":158.539},{"t":395.75,"p":158.184},{"t":420.25,"p":158.899},{"t":439,"p":158.539},{"t":445,"p":158.864},{"t":462.25,"p":158.239},{"t":500.25,"p":158.749},{"t":509.25,"p":158.499},{"t":517.5,"p":159.229},{"t":518.25,"p":157.339},{"t":536.5,"p":158.259},{"t":571.5,"p":155.694}]},
"mark":{"type":"line","color":"#ba55d3","strokeWidth":2.5},
"encoding":{"x":{"field":"t","type":"quantitative","scale":{"domain":[-0.5,606],"nice":false,"zero":false},"axis":null},"y":{"field":"p","type":"quantitative","scale":{"domain":[155.3135,159.6435],"nice":false,"zero":false},"axis":null}}},
{"data":{"values":[{"t":0.25,"p":158.504},{"t":568.5,"p":155.639}]},
"mark":{"type":"line","color":"#ff1493","strokeWidth":3},
"encoding":{"x":{"field":"t","type":"quantitative","scale":{"domain":[-0.5,606],"nice":false,"zero":false},"axis":null},"y":{"field":"p","type":"quantitative","scale":{"domain":[155.3135,159.6435],"nice":false,"zero":false},"axis":null}}},
{"data":{"values":[{"t":-0.5,"p":159.549},{"t":294.5,"p":159.629}]},
"mark":{"type":"line","color":"#ff2080","strokeWidth":2},
"encoding":{"x":{"field":"t","type":"quantitative","scale":{"domain":[-0.5,606],"nice":false,"zero":false},"axis":null},"y":{"field":"p","type":"quantitative","scale":{"domain":[155.3135,159.6435],"nice":false,"zero":false},"axis":null}}},
{"data":{"values":[{"t":575.75}]},"mark":{"type":"rule","strokeDash":[6,4],"color":"#ffffff","strokeWidth":1.2},
"encoding":{"x":{"field":"t","type":"quantitative","scale":{"domain":[-0.5,606],"nice":false,"zero":false},"axis":null}}},
{"data":{"values":[{"t":482.75,"p":159.625}]},
"mark":{"type":"point","shape":"triangle-down","filled":true,"opacity":1,"size":40,"color":"#8c8c8c"},
"encoding":{"x":{"field":"t","type":"quantitative","scale":{"domain":[-0.5,606],"nice":false,"zero":false},"axis":null},"y":{"field":"p","type":"quantitative","scale":{"domain":[155.3135,159.6435],"nice":false,"zero":false},"axis":null}}},
{"data":{"values":[{"s":"W1 Hi","t":263.5,"p":159.314,"k":"g"},{"s":"W1 Lo","t":269.25,"p":157.369,"k":"g"},{"s":"Jan Lo","t":511.5,"p":155.754,"k":"g"},{"s":"2025Hi","t":349.25,"p":158.764,"k":"t"},{"s":"Dec Hi","t":402,"p":157.579,"k":"o"},{"s":"16","t":48,"p":158.744,"k":"r"},{"s":"23","t":521.5,"p":159.294,"k":"r"},{"s":"19","t":142.75,"p":157.344,"k":"y"},{"s":"20","t":239.25,"p":157.374,"k":"y"},{"s":"21","t":337,"p":157.604,"k":"y"},{"s":"22","t":435.25,"p":158.044,"k":"y"},{"s":"1","t":565,"p":158.134,"k":"r"}]},
"mark":{"type":"text","fontSize":16,"baseline":"middle","align":"center"},
"encoding":{"x":{"field":"t","type":"quantitative","scale":{"domain":[-0.5,606],"nice":false,"zero":false},"axis":null},"y":{"field":"p","type":"quantitative","scale":{"domain":[155.3135,159.6435],"nice":false,"zero":false},"axis":null},"text":{"field":"s"},
"color":{"condition":[{"test":"datum.k=='g'","value":"#00d000"},{"test":"datum.k=='t'","value":"#4a9a9a"},{"test":"datum.k=='o'","value":"#ff8c00"},{"test":"datum.k=='r'","value":"#e81c1c"}],"value":"#e6d400"}}},
{"data":{"values":[{"s":"1","t":269,"p":158.279}]},
"mark":{"type":"text","fontSize":24,"baseline":"middle","align":"center","color":"#e6e62a"},
"encoding":{"x":{"field":"t","type":"quantitative","scale":{"domain":[-0.5,606],"nice":false,"zero":false},"axis":null},"y":{"field":"p","type":"quantitative","scale":{"domain":[155.3135,159.6435],"nice":false,"zero":false},"axis":null},"text":{"field":"s"}}},
{"data":{"values":[{"t":275.75,"p":158.149}]},
"mark":{"type":"point","shape":"circle","filled":false,"opacity":1,"size":600,"strokeWidth":2.5,"color":"#e6e62a"},
"encoding":{"x":{"field":"t","type":"quantitative","scale":{"domain":[-0.5,606],"nice":false,"zero":false},"axis":null},"y":{"field":"p","type":"quantitative","scale":{"domain":[155.3135,159.6435],"nice":false,"zero":false},"axis":null}}},
{"data":{"values":[{"t":553.75,"p":158.094}]},
"mark":{"type":"point","shape":"circle","filled":false,"opacity":1,"size":350,"strokeWidth":2.5,"color":"#ff2020"},
"encoding":{"x":{"field":"t","type":"quantitative","scale":{"domain":[-0.5,606],"nice":false,"zero":false},"axis":null},"y":{"field":"p","type":"quantitative","scale":{"domain":[155.3135,159.6435],"nice":false,"zero":false},"axis":null}}},
{"data":{"values":[{"t":572.5,"p":155.74}]},
"mark":{"type":"point","shape":"circle","filled":false,"opacity":1,"size":260,"strokeWidth":2,"color":"#87cefa"},
"encoding":{"x":{"field":"t","type":"quantitative","scale":{"domain":[-0.5,606],"nice":false,"zero":false},"axis":null},"y":{"field":"p","type":"quantitative","scale":{"domain":[155.3135,159.6435],"nice":false,"zero":false},"axis":null}}},
{"data":{"values":[{"s":"H4-SMA(21)","t":588.5,"p":158.159,"k":"a"},{"s":"H1-SMA(21)","t":588.5,"p":157.809,"k":"b"},{"s":"D1-SMA(21)","t":588.5,"p":157.384,"k":"c"},{"s":"M15-SMA(21)","t":588.5,"p":156.159,"k":"d"}]},
"mark":{"type":"text","fontSize":11,"baseline":"middle","align":"left"},
"encoding":{"x":{"field":"t","type":"quantitative","scale":{"domain":[-0.5,606],"nice":false,"zero":false},"axis":null},"y":{"field":"p","type":"quantitative","scale":{"domain":[155.3135,159.6435],"nice":false,"zero":false},"axis":null},"text":{"field":"s"},
"color":{"condition":[{"test":"datum.k=='a'","value":"#ff8c00"},{"test":"datum.k=='b'","value":"#1e90ff"},{"test":"datum.k=='c'","value":"#ff1493"}],"value":"#a040ff"}}},
{"data":{"values":[{"s":"USDJPY M15","t":605.25,"p":159.5185}]},
"mark":{"type":"text","fontSize":21,"baseline":"alphabetic","align":"right","color":"#ffffff"},
"encoding":{"x":{"field":"t","type":"quantitative","scale":{"domain":[-0.5,606],"nice":false,"zero":false},"axis":null},"y":{"field":"p","type":"quantitative","scale":{"domain":[155.3135,159.6435],"nice":false,"zero":false},"axis":null},"text":{"field":"s"}}},
{"data":{"values":[{"s":"D1/H4/H1","t":574.25,"p":159.3485}]},
"mark":{"type":"text","fontSize":21,"baseline":"alphabetic","align":"left","color":"#ffffff"},
"encoding":{"x":{"field":"t","type":"quantitative","scale":{"domain":[-0.5,606],"nice":false,"zero":false},"axis":null},"y":{"field":"p","type":"quantitative","scale":{"domain":[155.3135,159.6435],"nice":false,"zero":false},"axis":null},"text":{"field":"s"}}},
{"data":{"values":[{"p":159.5},{"p":159},{"p":158.5},{"p":158},{"p":157.5},{"p":157},{"p":156.5},{"p":156},{"p":155.72},{"p":155.5}]},
"layer":[
{"mark":{"type":"tick","orient":"horizontal","size":39,"thickness":13,"opacity":1},
"encoding":{"x":{"datum":611.4,"type":"quantitative","scale":{"domain":[-0.5,606],"nice":false,"zero":false},"axis":null},"y":{"field":"p","type":"quantitative","scale":{"domain":[155.3135,159.6435],"nice":false,"zero":false},"axis":null},"color":{"condition":{"test":"datum.p % 1 == 0","value":"#5f9ea0"},"value":"#748596"}}},
{"mark":{"type":"text","fontSize":9,"baseline":"middle","align":"center","color":"#15202b"},
"encoding":{"x":{"datum":611.4,"type":"quantitative","scale":{"domain":[-0.5,606],"nice":false,"zero":false},"axis":null},"y":{"field":"p","type":"quantitative","scale":{"domain":[155.3135,159.6435],"nice":false,"zero":false},"axis":null},"text":{"field":"p","type":"quantitative","format":".3f"}}}
]}
]},
{"width":2426,"height":17,
"data":{"values":"k,n\n1,8\n2,9\n3,10\n4,11\n5,12\n6,13\n7,14\n8,15\n9,16\n10,17\n11,18\n12,19\n13,20\n14,21\n15,22\n16,23\n17,0\n18,1\n19,2\n20,3\n21,4\n22,5\n23,6\n24,7\n25,8\n26,9\n27,10\n28,11\n29,12\n30,13\n31,14\n32,15\n33,16\n34,17\n35,18\n36,19\n37,20\n38,21\n39,22\n40,23\n41,0\n42,1\n43,2\n44,3\n45,4\n46,5\n47,6\n48,7\n49,8\n50,9\n51,10\n52,11\n53,12\n54,13\n55,14\n56,15\n57,16\n58,17\n59,18\n60,19\n61,20\n62,21\n63,22\n64,23\n65,0\n66,1\n67,2\n68,3\n69,4\n70,5\n71,6\n72,7\n73,8\n74,9\n75,10\n76,11\n77,12\n78,13\n79,14\n80,15\n81,16\n82,17\n83,18\n84,19\n85,20\n86,21\n87,22\n88,23\n89,0\n90,1\n91,2\n92,3\n93,4\n94,5\n95,6\n96,7\n97,8\n98,9\n99,10\n100,11\n101,12\n102,13\n103,14\n104,15\n105,16\n106,17\n107,18\n108,19\n109,20\n110,21\n111,22\n112,23\n113,0\n114,1\n115,2\n116,3\n117,4\n118,5\n119,6\n120,7\n121,8\n122,9\n123,10\n124,11\n125,12\n126,13\n127,14\n128,15\n129,16\n130,17\n131,18\n132,19\n133,20\n134,21\n135,22\n136,23\n137,0\n138,1\n139,2\n140,3\n141,4\n142,5\n143,6","format":{"type":"csv","parse":{"k":"number","n":"number"}}},
"layer":[
{"mark":{"type":"tick","orient":"vertical","thickness":16,"size":17,"xOffset":6,"opacity":1},
"encoding":{"x":{"field":"k","type":"quantitative","scale":{"domain":[-0.125,151.5],"nice":false,"zero":false},"axis":null},
"color":{"field":"n","type":"ordinal","scale":{"domain":[0,1,2,3,4,5,6,7,8,9,10,11,12,13,14,15,16,17,18,19,20,21,22,23],"range":["#1464b4","#1464b4","#1464b4","#1e3c66","#1e3c66","#1e3c66","#1e3c66","#c8a000","#c8a000","#c8003c","#c8003c","#c8003c","#c8003c","#c8003c","#c8003c","#c8003c","#c8003c","#4e7052","#4e7052","#4e7052","#4e7052","#4e7052","#1464b4","#1464b4"]},"legend":null}}},
{"mark":{"type":"text","align":"left","dx":-1,"baseline":"middle","fontSize":10.5,"color":"#ffffff"},
"encoding":{"x":{"field":"k","type":"quantitative","scale":{"domain":[-0.125,151.5],"nice":false,"zero":false},"axis":null},"text":{"field":"n"}}}
]},
{"width":2426,"height":14,"view":{"stroke":null},
"layer":[
{"data":{"values":"h,s\n4,16 Jan 04:00\n8,16 Jan 08:00\n12,16 Jan 12:00\n16,16 Jan 16:00\n20,16 Jan 20:00\n28,19 Jan 04:00\n32,19 Jan 08:00\n36,19 Jan 12:00\n40,19 Jan 16:00\n44,19 Jan 20:00\n52,20 Jan 04:00\n56,20 Jan 08:00\n60,20 Jan 12:00\n64,20 Jan 16:00\n68,20 Jan 20:00\n76,21 Jan 04:00\n80,21 Jan 08:00\n84,21 Jan 12:00\n88,21 Jan 16:00\n92,21 Jan 20:00\n100,22 Jan 04:00\n104,22 Jan 08:00\n108,22 Jan 12:00\n112,22 Jan 16:00\n116,22 Jan 20:00\n124,23 Jan 04:00\n128,23 Jan 08:00\n132,23 Jan 12:00\n136,23 Jan 16:00\n140,23 Jan 20:00","format":{"type":"csv","parse":{"h":"number"}}},
"mark":{"type":"text","align":"left","baseline":"middle","fontSize":9,"color":"#a0a0a0"},
"encoding":{"x":{"field":"h","type":"quantitative","scale":{"domain":[-0.125,151.5],"nice":false,"zero":false},"axis":{"orient":"top","values":[0,4,8,12,16,20,24,28,32,36,40,44,48,52,56,60,64,68,72,76,80,84,88,92,96,100,104,108,112,116,120,124,128,132,136,140],"labels":false,"domain":false,"ticks":true,"tickSize":4,"tickColor":"#8c8c8c","title":null}},"text":{"field":"s"}}},
{"data":{"values":[{"h":24,"s":"2026.01.19 00:00"},{"h":48,"s":"2026.01.20 00:00"},{"h":72,"s":"2026.01.21 00:00"},{"h":96,"s":"2026.01.22 00:00"},{"h":120,"s":"2026.01.23 00:00"}]},
"layer":[
{"mark":{"type":"tick","orient":"vertical","thickness":78,"size":14,"opacity":1,"color":"#78889a"},
"encoding":{"x":{"field":"h","type":"quantitative","scale":{"domain":[-0.125,151.5],"nice":false,"zero":false},"axis":null}}},
{"mark":{"type":"text","align":"center","baseline":"middle","fontSize":9,"color":"#15202b"},
"encoding":{"x":{"field":"h","type":"quantitative","scale":{"domain":[-0.125,151.5],"nice":false,"zero":false},"axis":null},"text":{"field":"s"}}}
]},
{"data":{"values":[{"h":0,"s":"2026.01.16 00:00"}]},
"layer":[
{"mark":{"type":"tick","orient":"vertical","thickness":78,"size":14,"opacity":1,"color":"#78889a","xOffset":39},
"encoding":{"x":{"field":"h","type":"quantitative","scale":{"domain":[-0.125,151.5],"nice":false,"zero":false},"axis":null}}},
{"mark":{"type":"text","align":"center","baseline":"middle","fontSize":9,"color":"#15202b","xOffset":39},
"encoding":{"x":{"field":"h","type":"quantitative","scale":{"domain":[-0.125,151.5],"nice":false,"zero":false},"axis":null},"text":{"field":"s"}}}
]}
]}
]
}
